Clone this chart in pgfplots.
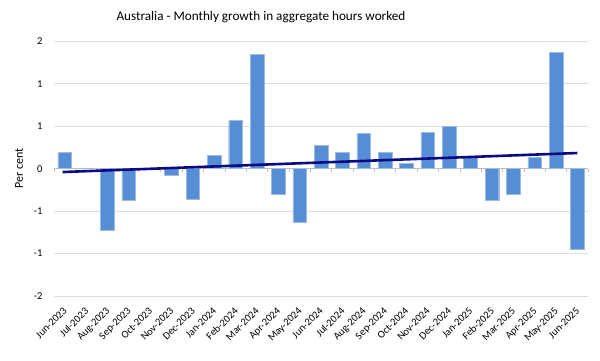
\documentclass[border=0pt]{standalone}
\usepackage{pgfplots}
\pgfplotsset{compat=1.18}
\usepackage{fontspec}
\setmainfont{Carlito}
\definecolor{barblue}{RGB}{85,142,213}
\definecolor{trendblue}{RGB}{10,10,130}
\definecolor{gridgray}{RGB}{222,222,222}
\definecolor{axisgray}{RGB}{191,191,191}
\begin{document}
\begin{tikzpicture}
\useasboundingbox (0,0) rectangle (600pt,361pt);
\begin{axis}[
  at={(54pt,65pt)}, anchor=south west,
  scale only axis, width=534pt, height=254.7pt,
  xmin=-0.5, xmax=24.5, ymin=-1.5, ymax=1.5,
  axis line style={draw=none},
  ytick={-1.5,-1,-0.5,0,0.5,1,1.5},
  yticklabels={-2,-1,-1,0,1,1,2},
  ymajorgrids, grid style={gridgray, line width=0.8pt},
  major tick length=0pt,
  xtick={0,...,24},
  xticklabels={Jun-2023,Jul-2023,Aug-2023,Sep-2023,Oct-2023,Nov-2023,Dec-2023,Jan-2024,Feb-2024,Mar-2024,Apr-2024,May-2024,Jun-2024,Jul-2024,Aug-2024,Sep-2024,Oct-2024,Nov-2024,Dec-2024,Jan-2025,Feb-2025,Mar-2025,Apr-2025,May-2025,Jun-2025},
  xticklabel style={rotate=45, anchor=north east, font=\fontsize{10.5}{11}\selectfont, inner sep=1pt, xshift=-8pt, yshift=-5pt},
  yticklabel style={font=\fontsize{10.5}{11}\selectfont, xshift=-8pt},
  ylabel={Per cent},
  every axis y label/.style={at={(ticklabel cs:0.5)}, rotate=90, anchor=south, font=\fontsize{12}{13}\selectfont},
  ylabel shift=4pt,
  clip=false,
]
\draw[axisgray, line width=0.8pt] (axis cs:-0.5,0) -- (axis cs:24.5,0);
\pgfplotsinvokeforeach{0,...,25}{\draw[axisgray, line width=0.6pt] (axis cs:#1-0.5,0) -- ++(0pt,-3pt);}
\addplot[ybar, bar width=0.64, fill=barblue, draw=barblue!60!white, line width=0.4pt] coordinates {
(0,0.196) (1,0.0) (2,-0.72) (3,-0.377) (4,0.0) (5,-0.082) (6,-0.357) (7,0.153) (8,0.565) (9,1.347) (10,-0.302) (11,-0.636) (12,0.271)
(13,0.188) (14,0.412) (15,0.196) (16,0.063) (17,0.428) (18,0.495) (19,0.133) (20,-0.377) (21,-0.306) (22,0.13) (23,1.37) (24,-0.95)
};
\addplot[trendblue, line width=2.6pt, no marks] coordinates {(-0.1,-0.04) (24.0,0.184)};
\node[font=\fontsize{13.2}{15}\selectfont] at (rel axis cs:0.3876,1.0954) {Australia - Monthly growth in aggregate hours worked};
\end{axis}
\end{tikzpicture}
\end{document}
